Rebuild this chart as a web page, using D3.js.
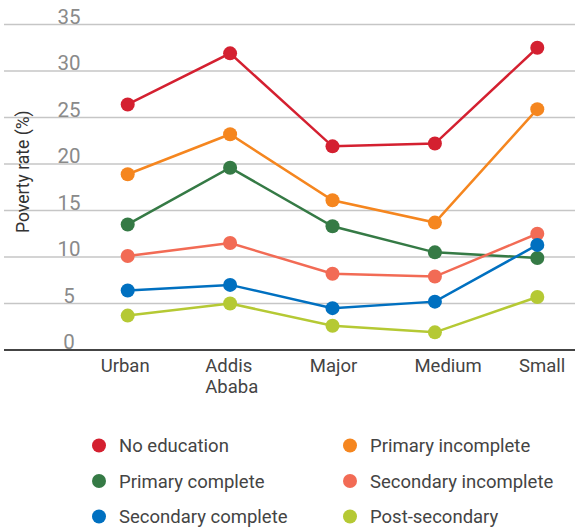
<!DOCTYPE html>
<html>
<head>
<meta charset="utf-8">
<script src="https://cdn.jsdelivr.net/npm/d3@7"></script>
<style>
  html, body { margin: 0; padding: 0; background: #fff; }
  svg { display: block; font-family: Roboto, "Noto Sans", sans-serif; }
</style>
</head>
<body>
<svg id="chart" width="575" height="528"></svg>
<script>
const categories = ["Urban", "Addis Ababa", "Major", "Medium", "Small"];
const categoryLines = [["Urban"], ["Addis", "Ababa"], ["Major"], ["Medium"], ["Small"]];
const seriesNames = ["No education", "Primary incomplete", "Primary complete", "Secondary incomplete", "Secondary complete", "Post-secondary"];
const seriesColors = ["#d42030", "#f5861f", "#357a45", "#f26b55", "#0070c0", "#b5c934"];
const noEducation = [26.4, 31.9, 21.9, 22.2, 32.5];
const primaryIncomplete = [18.9, 23.2, 16.1, 13.7, 25.9];
const primaryComplete = [13.5, 19.6, 13.3, 10.5, 9.9];
const secondaryIncomplete = [10.1, 11.5, 8.2, 7.9, 12.5];
const secondaryComplete = [6.4, 7.0, 4.5, 5.2, 11.3];
const postSecondary = [3.7, 5.0, 2.6, 1.9, 5.7];
const yTicks = [0, 5, 10, 15, 20, 25, 30, 35];

const seriesValues = [noEducation, primaryIncomplete, primaryComplete, secondaryIncomplete, secondaryComplete, postSecondary];

const svg = d3.select("#chart");
const x = d3.scalePoint().domain(categories).range([127.7, 537.3]);
const xLabel = d3.scalePoint().domain(categories).range([100.7, 519]);
const y = d3.scaleLinear().domain([0, 35]).range([350, 24.5]);

// gridlines
svg.append("g").selectAll("line").data(yTicks.filter(d => d > 0)).join("line")
  .attr("x1", 4).attr("x2", 575)
  .attr("y1", d => y(d)).attr("y2", d => y(d))
  .attr("stroke", "#c6c6c6").attr("stroke-width", 1.5);

// tick labels
svg.append("g").selectAll("text").data(yTicks).join("text")
  .attr("x", 69).attr("y", d => y(d) - 1)
  .attr("text-anchor", "middle")
  .attr("font-size", 20.5).attr("fill", "#8a8a8a")
  .text(d => d);

// x axis line
svg.append("line").attr("x1", 4).attr("x2", 575).attr("y1", y(0)).attr("y2", y(0))
  .attr("stroke", "#444").attr("stroke-width", 2);

// x labels
const xl = svg.append("g").selectAll("text").data(categories).join("text")
  .attr("x", d => xLabel(d)).attr("y", 372)
  .attr("font-size", 18.5).attr("fill", "#444");
xl.each(function(d, i) {
  const t = d3.select(this);
  categoryLines[i].forEach((ln, j) => {
    t.append("tspan").attr("x", xLabel(d)).attr("dy", j === 0 ? 0 : 21).text(ln);
  });
});

// y title
svg.append("text")
  .attr("transform", "translate(28.5,171.7) rotate(-90)")
  .attr("text-anchor", "middle")
  .attr("font-size", 17.5).attr("fill", "#333")
  .text("Poverty rate (%)");

// lines and points
const line = d3.line().x((d, i) => x(categories[i])).y(d => y(d));
seriesValues.forEach((vals, s) => {
  const g = svg.append("g");
  g.append("path").attr("d", line(vals)).attr("fill", "none")
    .attr("stroke", seriesColors[s]).attr("stroke-width", 2.5);
  g.selectAll("circle").data(vals).join("circle")
    .attr("cx", (d, i) => x(categories[i])).attr("cy", d => y(d))
    .attr("r", 7).attr("fill", seriesColors[s]);
});

// legend
const legCol = [99, 350];
const legRow = [445.5, 481, 516.5];
const leg = svg.append("g").selectAll("g").data(seriesNames).join("g")
  .attr("transform", (d, i) => `translate(${legCol[i % 2]},${legRow[Math.floor(i / 2)]})`);
leg.append("circle").attr("r", 7).attr("fill", (d, i) => seriesColors[i]);
leg.append("text").attr("x", 20).attr("y", 6.5)
  .attr("font-size", 18.5).attr("fill", "#444").text(d => d);
</script>
</body>
</html>
